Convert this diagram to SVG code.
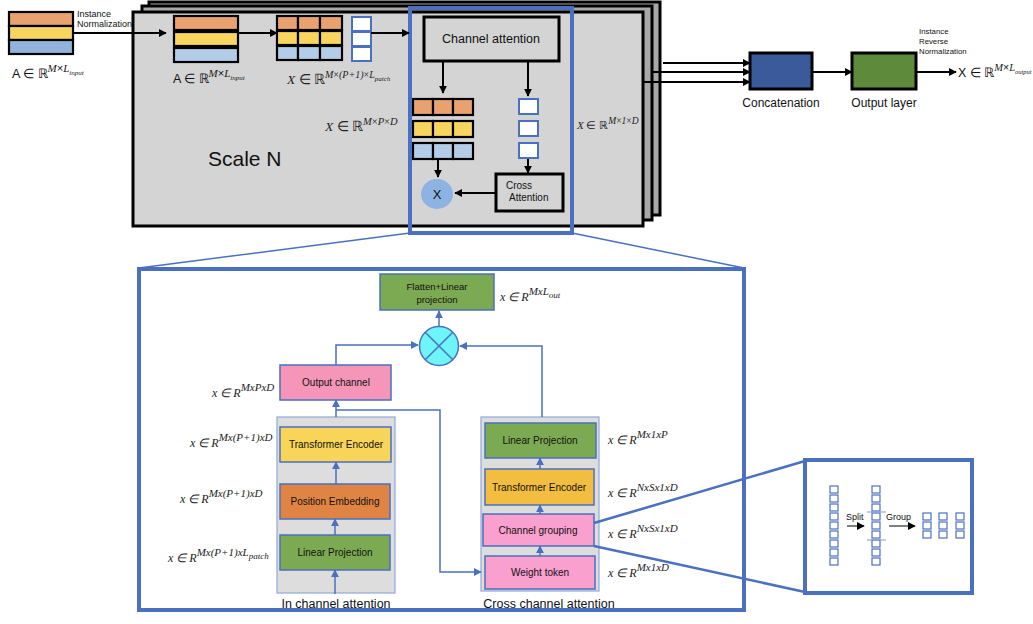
<svg xmlns="http://www.w3.org/2000/svg" width="1033" height="624" viewBox="0 0 1033 624">
<defs>
<marker id="ab" viewBox="0 0 10 10" refX="9" refY="5" markerWidth="8" markerHeight="8" markerUnits="userSpaceOnUse" orient="auto"><path d="M0,0 L10,5 L0,10 z" fill="#000"/></marker>
<marker id="au" viewBox="0 0 10 10" refX="9" refY="5" markerWidth="8" markerHeight="8" markerUnits="userSpaceOnUse" orient="auto"><path d="M0,0 L10,5 L0,10 z" fill="#4A70C0"/></marker>
<style>
.sans{font-family:"Liberation Sans",Arial,sans-serif;fill:#111}
.m{font-family:"Liberation Serif","Times New Roman",serif;font-style:italic;fill:#222}
.frame{stroke:#000;stroke-width:3}
.cell{stroke:#000;stroke-width:2.2}
.o{fill:#E9A26F}.y{fill:#F7D55F}.b{fill:#B3CDE8}
.wc{fill:#fff;stroke:#4A70C0;stroke-width:2}
.k{stroke:#000;stroke-width:2;fill:none}
.bl{stroke:#4A70C0;stroke-width:1.5;fill:none}
.bx{stroke:#4A70C0;stroke-width:1.5}
.sc{fill:#fff;stroke:#4A70C0;stroke-width:1.2}
</style>
</defs>

<g id="input">
<rect x="9" y="12" width="64" height="14" class="cell o"/>
<rect x="9" y="26" width="64" height="14" class="cell y"/>
<rect x="9" y="40" width="64" height="14" class="cell" fill="#92B4DC"/>
<text x="77" y="17" class="sans" font-size="9">Instance</text>
<text x="77" y="27" class="sans" font-size="9">Normalization</text>
<text x="12" y="78" class="sans" font-size="12.5">A ∈ ℝ<tspan class="m" font-size="11" dy="-6">M</tspan><tspan font-size="11">×</tspan><tspan class="m" font-size="11">L</tspan><tspan class="m" font-size="7" dy="3">input</tspan></text>
</g>

<g id="scale-frames">
<rect x="149" y="2" width="511" height="213" fill="#A8A8A8" class="frame"/>
<rect x="142" y="6" width="510" height="214" fill="#A8A8A8" class="frame"/>
<rect x="133" y="12" width="510" height="214" fill="#D4D4D4" class="frame"/>
<text x="208" y="166" class="sans" font-size="21">Scale N</text>
</g>

<g id="series-block">
<rect x="174" y="16" width="64" height="14" class="cell o"/>
<rect x="174" y="32" width="64" height="14" class="cell y"/>
<rect x="174" y="48" width="64" height="14" class="cell b"/>
<text x="173" y="83" class="sans" font-size="12.5">A ∈ ℝ<tspan class="m" font-size="11" dy="-6">M</tspan><tspan font-size="11">×</tspan><tspan class="m" font-size="11">L</tspan><tspan class="m" font-size="7" dy="3">input</tspan></text>
</g>

<g id="patch-grid">
<rect x="277" y="16" width="21" height="14" class="cell o"/><rect x="298" y="16" width="22" height="14" class="cell o"/><rect x="320" y="16" width="22" height="14" class="cell o"/>
<rect x="277" y="31" width="21" height="14" class="cell y"/><rect x="298" y="31" width="22" height="14" class="cell y"/><rect x="320" y="31" width="22" height="14" class="cell y"/>
<rect x="277" y="46" width="21" height="14" class="cell b"/><rect x="298" y="46" width="22" height="14" class="cell b"/><rect x="320" y="46" width="22" height="14" class="cell b"/>
<rect x="352" y="17" width="19" height="14" class="wc"/><rect x="352" y="32" width="19" height="14" class="wc"/><rect x="352" y="47" width="19" height="14" class="wc"/>
<text x="287" y="84" class="m" font-size="13.5">X <tspan font-style="normal">∈ ℝ</tspan><tspan font-size="10" dy="-6">M<tspan font-style="normal">×</tspan>(P+1)<tspan font-style="normal">×</tspan>L</tspan><tspan font-size="7" dy="3">patch</tspan></text>
<text x="325" y="131" class="m" font-size="13.5">X <tspan font-style="normal">∈ ℝ</tspan><tspan font-size="10.5" dy="-6">M<tspan font-style="normal">×</tspan>P<tspan font-style="normal">×</tspan>D</tspan></text>
</g>

<g id="channel-attention-block">
<rect x="424" y="17" width="135" height="44" fill="#D4D4D4" class="frame"/>
<text x="491" y="43" class="sans" font-size="12.5" text-anchor="middle">Channel attention</text>
<rect x="413" y="99" width="20" height="16" class="cell o"/><rect x="433" y="99" width="20" height="16" class="cell o"/><rect x="453" y="99" width="20" height="16" class="cell o"/>
<rect x="413" y="121" width="20" height="16" class="cell y"/><rect x="433" y="121" width="20" height="16" class="cell y"/><rect x="453" y="121" width="20" height="16" class="cell y"/>
<rect x="413" y="143" width="20" height="16" class="cell b"/><rect x="433" y="143" width="20" height="16" class="cell b"/><rect x="453" y="143" width="20" height="16" class="cell b"/>
<rect x="519" y="99" width="19" height="15" class="wc"/><rect x="519" y="121" width="19" height="15" class="wc"/><rect x="519" y="143" width="19" height="15" class="wc"/>
<rect x="496" y="174" width="67" height="37" fill="#D4D4D4" class="frame"/>
<text x="506" y="189" class="sans" font-size="10">Cross</text>
<text x="509" y="201" class="sans" font-size="10">Attention</text>
<ellipse cx="437" cy="194" rx="16" ry="15" fill="#8DB3E2"/>
<text x="437" y="199" class="sans" font-size="13" text-anchor="middle">X</text>
<text x="577" y="129" class="m" font-size="11">X <tspan font-style="normal">∈ ℝ</tspan><tspan font-size="9.5" dy="-5">M<tspan font-style="normal">×</tspan>1<tspan font-style="normal">×</tspan>D</tspan></text>
<rect x="410" y="8" width="162" height="225" fill="none" stroke="#4A70C0" stroke-width="4"/>
</g>

<g id="concatenation">
<rect x="750" y="53" width="62" height="36" fill="#3A5A9A" class="frame"/>
<text x="781" y="107" class="sans" font-size="12" text-anchor="middle">Concatenation</text>
</g>
<g id="output-layer">
<rect x="852" y="53" width="64" height="36" fill="#5E8A3C" class="frame"/>
<text x="884" y="107" class="sans" font-size="12" text-anchor="middle">Output  layer</text>
<text x="919" y="34" class="sans" font-size="7.8">Instance</text>
<text x="919" y="44" class="sans" font-size="7.8">Reverse</text>
<text x="919" y="54" class="sans" font-size="7.8">Normalization</text>
<text x="958" y="77" class="sans" font-size="12.5">X ∈ ℝ<tspan class="m" font-size="10.5" dy="-6">M</tspan><tspan font-size="10.5">×</tspan><tspan class="m" font-size="10.5">L</tspan><tspan class="m" font-size="6.5" dy="3">output</tspan></text>
</g>

<g id="detail-box">
<rect x="139" y="269" width="605" height="341" fill="#fff" stroke="#4A70C0" stroke-width="4"/>
</g>

<g id="flatten">
<rect x="380" y="274" width="114" height="36" fill="#7BAA52" class="bx"/>
<text x="437" y="290" class="sans" font-size="9.5" text-anchor="middle">Flatten+Linear</text>
<text x="437" y="303" class="sans" font-size="9.5" text-anchor="middle">projection</text>
<text x="500" y="301" class="m" font-size="12">x ∈ R<tspan font-size="11" dy="-6">MxL</tspan><tspan font-size="9" dy="3">out</tspan></text>
</g>

<g id="multiply">
<circle cx="439" cy="346" r="19.5" fill="#6EF5FA" stroke="#4A70C0" stroke-width="1.5"/>
<path d="M425.2,332.2 L452.8,359.8 M452.8,332.2 L425.2,359.8" stroke="#4A70C0" stroke-width="1.5"/>
</g>

<g id="output-channel">
<rect x="280" y="365" width="111" height="35" fill="#F596B8" class="bx"/>
<text x="336" y="386" class="sans" font-size="10" text-anchor="middle">Output channel</text>
<text x="212" y="397" class="m" font-size="12">x ∈ R<tspan font-size="11" dy="-6">MxPxD</tspan></text>
</g>

<g id="in-channel-attention">
<rect x="277" y="417" width="118" height="176" fill="#DDDDDD" stroke="#8FA8DA" stroke-width="1.2"/>
<rect x="280" y="427" width="111" height="35" fill="#F8D458" class="bx"/>
<text x="336" y="448" class="sans" font-size="10" text-anchor="middle">Transformer Encoder</text>
<rect x="280" y="484" width="110" height="35" fill="#E08444" class="bx"/>
<text x="335" y="505" class="sans" font-size="10" text-anchor="middle">Position Embedding</text>
<rect x="280" y="535" width="110" height="35" fill="#7BAA52" class="bx"/>
<text x="335" y="556" class="sans" font-size="10" text-anchor="middle">Linear Projection</text>
<text x="336" y="608" class="sans" font-size="12.5" text-anchor="middle">In channel attention</text>
<text x="190" y="447" class="m" font-size="12">x ∈ R<tspan font-size="11" dy="-6">Mx(P+1)xD</tspan></text>
<text x="180" y="503" class="m" font-size="12">x ∈ R<tspan font-size="11" dy="-6">Mx(P+1)xD</tspan></text>
<text x="168" y="562" class="m" font-size="12">x ∈ R<tspan font-size="11" dy="-6">Mx(P+1)xL</tspan><tspan font-size="9" dy="3">patch</tspan></text>
</g>

<g id="cross-channel-attention">
<rect x="481" y="417" width="118" height="174" fill="#DDDDDD" stroke="#8FA8DA" stroke-width="1.2"/>
<rect x="485" y="423" width="111" height="35" fill="#7BAA52" class="bx"/>
<text x="540" y="444" class="sans" font-size="10" text-anchor="middle">Linear Projection</text>
<rect x="485" y="469" width="109" height="36" fill="#F3BE40" class="bx"/>
<text x="539" y="491" class="sans" font-size="10" text-anchor="middle">Transformer Encoder</text>
<rect x="483" y="514" width="111" height="32" fill="#F9A0CF" class="bx"/>
<text x="538" y="534" class="sans" font-size="10" text-anchor="middle">Channel grouping</text>
<rect x="485" y="556" width="110" height="33" fill="#F9A0CF" class="bx"/>
<text x="540" y="576" class="sans" font-size="10" text-anchor="middle">Weight token</text>
<text x="549" y="608" class="sans" font-size="12.5" text-anchor="middle">Cross channel attention</text>
<text x="608" y="444" class="m" font-size="12">x ∈ R<tspan font-size="11" dy="-6">Mx1xP</tspan></text>
<text x="608" y="497" class="m" font-size="12">x ∈ R<tspan font-size="11" dy="-6">NxSx1xD</tspan></text>
<text x="608" y="538" class="m" font-size="12">x ∈ R<tspan font-size="11" dy="-6">NxSx1xD</tspan></text>
<text x="608" y="577" class="m" font-size="12">x ∈ R<tspan font-size="11" dy="-6">Mx1xD</tspan></text>
</g>

<g id="grouping-detail">
<rect x="805" y="460" width="167" height="133" fill="#fff" stroke="#4A70C0" stroke-width="4"/>
<g class="sc">
<rect x="830" y="486" width="8" height="7"/><rect x="830" y="495" width="8" height="7"/><rect x="830" y="504" width="8" height="7"/><rect x="830" y="513" width="8" height="7"/><rect x="830" y="522" width="8" height="7"/><rect x="830" y="531" width="8" height="7"/><rect x="830" y="540" width="8" height="7"/><rect x="830" y="549" width="8" height="7"/><rect x="830" y="558" width="8" height="7"/>
<rect x="872" y="486" width="8" height="7"/><rect x="872" y="495" width="8" height="7"/><rect x="872" y="504" width="8" height="7"/><rect x="872" y="513" width="8" height="7"/><rect x="872" y="522" width="8" height="7"/><rect x="872" y="531" width="8" height="7"/><rect x="872" y="540" width="8" height="7"/><rect x="872" y="549" width="8" height="7"/><rect x="872" y="558" width="8" height="7"/>
<rect x="923" y="513" width="8" height="7"/><rect x="923" y="522" width="8" height="7"/><rect x="923" y="531" width="8" height="7"/>
<rect x="939" y="513" width="8" height="7"/><rect x="939" y="522" width="8" height="7"/><rect x="939" y="531" width="8" height="7"/>
<rect x="956" y="513" width="8" height="7"/><rect x="956" y="522" width="8" height="7"/><rect x="956" y="531" width="8" height="7"/>
</g>
<path d="M867,512 H886 M867,540 H886" stroke="#7F9BD6" stroke-width="1"/>
<text x="846" y="520" class="sans" font-size="9">Split</text>
<text x="886" y="520" class="sans" font-size="9">Group</text>
<path d="M847,526 H864" stroke="#000" stroke-width="1" marker-end="url(#ab)"/>
<path d="M889,526 H915" stroke="#000" stroke-width="1" marker-end="url(#ab)"/>
</g>

<g id="connectors">
<path d="M73,33 H166" class="k" marker-end="url(#ab)"/>
<path d="M238,33 H277" class="k" marker-end="url(#ab)"/>
<path d="M371,33 H409" class="k" marker-end="url(#ab)"/>
<path d="M443,61 V93" class="k" marker-end="url(#ab)"/>
<path d="M528,61 V96" class="k" marker-end="url(#ab)"/>
<path d="M438,160 V177" class="k" marker-end="url(#ab)"/>
<path d="M528,159 V173" class="k" marker-end="url(#ab)"/>
<path d="M496,193 H455" class="k" marker-end="url(#ab)"/>
<path d="M663,63 H750" class="k" marker-end="url(#ab)"/>
<path d="M653,72 H750" class="k" marker-end="url(#ab)"/>
<path d="M642,82 H750" class="k" marker-end="url(#ab)"/>
<path d="M812,72 H852" class="k" marker-end="url(#ab)"/>
<path d="M916,72 H956" class="k" marker-end="url(#ab)"/>
<path d="M410,233 L139,268 M572,233 L744,268" stroke="#4A70C0" stroke-width="1.5" fill="none"/>
<path d="M594,523 L805,461 M594,546 L805,592" stroke="#4A70C0" stroke-width="2.5" fill="none"/>
<path d="M439,326 V311" class="bl" marker-end="url(#au)"/>
<path d="M336,365 V345 H418" class="bl" marker-end="url(#au)"/>
<path d="M542,417 V346 H460" class="bl" marker-end="url(#au)"/>
<path d="M336,417 V400" class="bl" marker-end="url(#au)"/>
<path d="M336,484 V462" class="bl" marker-end="url(#au)"/>
<path d="M335,535 V519" class="bl" marker-end="url(#au)"/>
<path d="M335,594 V570" class="bl" marker-end="url(#au)"/>
<path d="M336,410 H440 V572 H481" class="bl" marker-end="url(#au)"/>
<path d="M540,469 V458" class="bl" marker-end="url(#au)"/>
<path d="M540,514 V505" class="bl" marker-end="url(#au)"/>
<path d="M540,556 V546" class="bl" marker-end="url(#au)"/>
</g>
</svg>
